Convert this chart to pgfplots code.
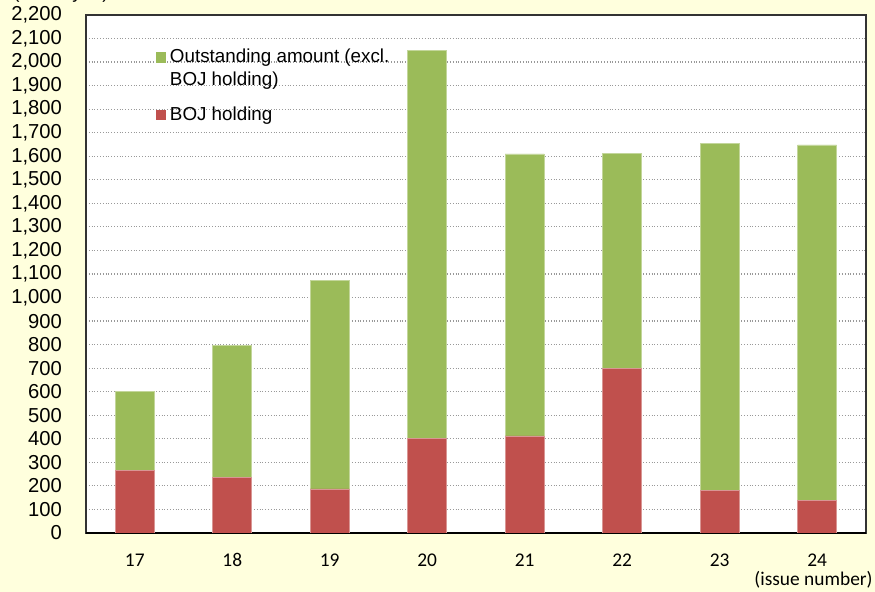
\documentclass[border=0pt]{standalone}
\usepackage{pgfplots}
\pgfplotsset{compat=1.18}
\usepackage{fontspec}
\setmainfont{Liberation Sans}
\newfontfamily\calfont{Carlito}
\definecolor{bgc}{HTML}{FFFFDD}
\definecolor{gbar}{HTML}{9BBB59}
\definecolor{rbar}{HTML}{C0504D}
\begin{document}
\begin{tikzpicture}
\fill[bgc] (0,0) rectangle (437.5pt,296pt);
\begin{axis}[
  at={(43pt,29.5pt)}, anchor=south west,
  scale only axis, width=390pt, height=259pt,
  axis background/.style={fill=white},
  ybar stacked, bar width=0.4,
  xmin=16.5, xmax=24.5, ymin=0, ymax=2200,
  xtick=data,
  xticklabel style={font=\calfont\fontsize{9.7}{11}\selectfont, text height=7pt, text depth=0pt, yshift=-6pt},
  ytick={0,100,...,2200},
  yticklabel style={font=\fontsize{10.1}{12}\selectfont, xshift=-8.5pt},
  /pgf/number format/.cd, 1000 sep={,}, assume math mode=true,
  /pgfplots/.cd,
  major tick length=0pt,
  ymajorgrids, major grid style={gray!80, densely dotted, line width=0.6pt},
  axis line style={black!80, line width=0.6pt},
  extra y ticks={0}, extra y tick labels={},
  extra y tick style={grid=major, major grid style={black, solid, line width=1.2pt}},
  legend style={draw=none, fill=none, at={(0.081,0.951)}, anchor=north west,
    font=\fontsize{9.4}{11.5}\selectfont, row sep=5pt,
    cells={anchor=west, align=left}},
  reverse legend,
]
\addplot[fill=rbar, draw=rbar!60!white, line width=0.4pt,
  legend image code/.code={\fill[rbar] (0pt,-2.4pt) rectangle (4.8pt,2.4pt);}] coordinates {
(17,265) (18,237) (19,187) (20,400) (21,412) (22,700) (23,180) (24,137)};
\addlegendentry{BOJ holding}
\addplot[fill=gbar, draw=gbar!60!white, line width=0.4pt,
  legend image code/.code={\fill[gbar] (0pt,3.3pt) rectangle (4.8pt,8.1pt);}] coordinates {
(17,335) (18,558) (19,886) (20,1650) (21,1198) (22,913) (23,1475) (24,1511)};
\addlegendentry{Outstanding amount (excl.\\BOJ holding)}
\end{axis}
\node[anchor=east, font=\calfont\fontsize{9.7}{11}\selectfont, inner sep=0pt] at (436.5pt,6pt) {(issue number)};
\node[anchor=base west, font=\fontsize{9.3}{11}\selectfont, inner sep=0pt] at (6.5pt,296.5pt) {(billion yen)};
\pgfresetboundingbox
\path (0,0) rectangle (437.5pt,296pt);
\end{tikzpicture}
\end{document}
